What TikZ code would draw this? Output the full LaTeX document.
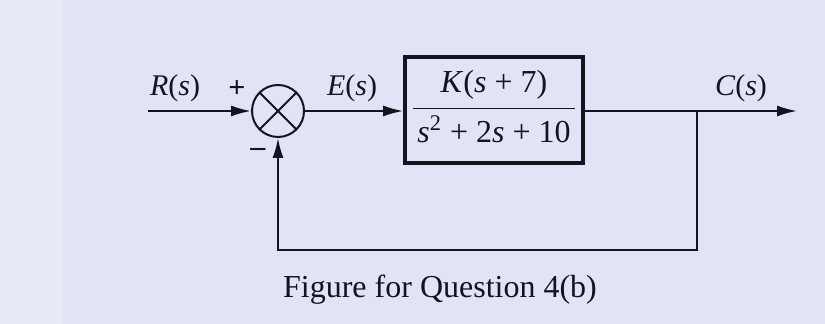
\documentclass[tikz,border=0pt]{standalone}
\usepackage{fontspec}
\setmainfont{Liberation Serif}
\usepackage{tikz}
\usetikzlibrary{arrows.meta,calc}

\definecolor{paper}{RGB}{224,228,246}
\definecolor{paperedge}{RGB}{230,235,246}
\definecolor{ink}{RGB}{20,20,30}

\begin{document}
\begin{tikzpicture}[
  x=0.5pt,y=-0.5pt,
  line width=1pt,
  >={Latex[length=10pt,width=5.5pt]},
  lbl/.style={font=\fontsize{15}{18}\selectfont,inner sep=0pt,text=ink},
  sumnode/.style={draw=ink,circle,minimum size=26pt,inner sep=0pt,
    path picture={\draw[ink,line width=1pt] (path picture bounding box.north west) -- (path picture bounding box.south east)
      (path picture bounding box.north east) -- (path picture bounding box.south west);}},
  block/.style={draw=ink,line width=1.8pt,minimum width=89pt,minimum height=53pt,inner sep=0pt,
    font=\fontsize{16}{19}\selectfont,text=ink},
]
% paper
\fill[paper] (0,0) rectangle (825,324);
\fill[paperedge] (0,0) rectangle (62,324);
\useasboundingbox (0,0) rectangle (825,324);

% blocks
\coordinate (in) at (148,111);
\node[sumnode] (sum) at (278,111) {};
\node[block] (plant) at (494,110) {%
  \begin{tabular}{@{\hspace{2pt}}c@{\hspace{2pt}}}
  \textit{K}(\textit{s} + 7)\\[2pt] \hline
  \rule{0pt}{17pt}\textit{s}\textsuperscript{2} + 2\textit{s} + 10
  \end{tabular}};
\coordinate (branch) at (697,111);
\coordinate (out) at (797,111);
\coordinate (fbr) at (697,250);
\coordinate (fbl) at (278,250);

% signals
\draw[->,ink] (in) -- (sum.west);
\draw[->,ink] (sum.east) -- (sum.east -| plant.west);
\draw[->,ink] (sum.east -| plant.east) -- (out);
\draw[->,ink] (branch) -- (fbr) -- (fbl) -- (sum.south);

% labels
\node[lbl] (rlab) at (175,88) {\textit{R}(\textit{s})};
\node[lbl] (plus) at (237,89) {\textbf{+}};
\node[lbl] (minus) at (258,152) {\textbf{–}};
\node[lbl] (elab) at (352,88) {\textit{E}(\textit{s})};
\node[lbl] (clab) at (741,88) {\textit{C}(\textit{s})};
\node[font=\fontsize{16}{19}\selectfont,text=ink] (cap) at (440,290) {Figure for Question 4(b)};
\end{tikzpicture}
\end{document}
